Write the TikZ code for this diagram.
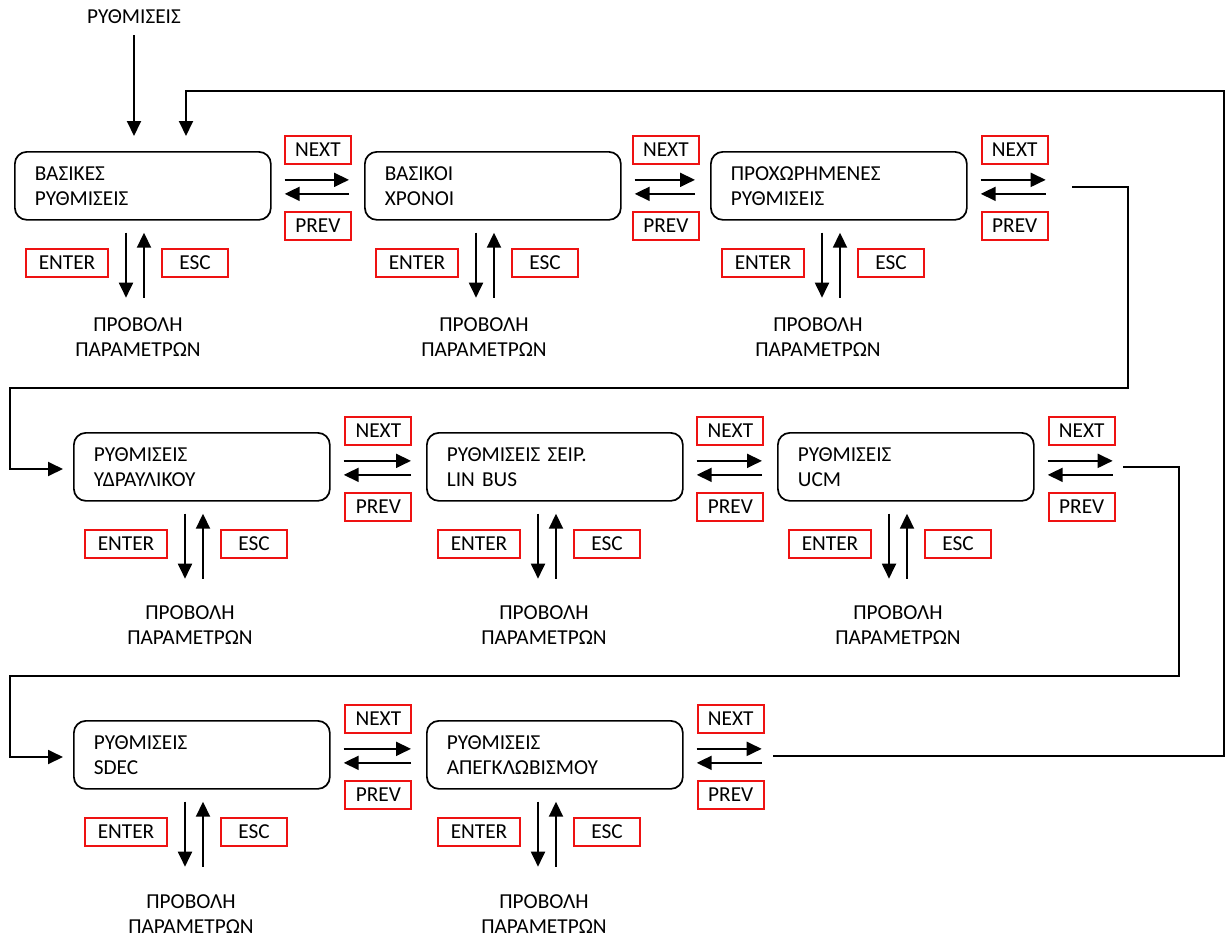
\documentclass[tikz,border=0pt]{standalone}
\usepackage{fontspec}
\setmainfont{Carlito}
\usetikzlibrary{arrows.meta,calc}
\definecolor{kred}{RGB}{238,18,18}
\newcommand{\fsz}{\fontsize{21.3}{25}\selectfont}
\begin{document}
\begin{tikzpicture}[x=1pt,y=-1pt,
  menubox/.style={draw, line width=1.7pt, rounded corners=12pt, minimum width=256pt,
    minimum height=68pt, text width=216pt, align=left, inner xsep=20pt, inner ysep=0pt,
    anchor=north west, font=\fsz},
  keybox/.style={draw=kred, line width=1.8pt, minimum height=28pt, inner sep=0pt, font=\fsz},
  keywide/.style={keybox, minimum width=82pt},
  keynarrow/.style={keybox, minimum width=66pt},
  viewtext/.style={align=center, font=\fsz, inner sep=0pt},
  arr/.style={line width=1.9pt, -{Triangle[length=15pt,width=14pt]}}]
\useasboundingbox (0,0) rectangle (1226,940);

% ---------- menu boxes ----------
\node[menubox] (b1) at (14,151) {ΒΑΣΙΚΕΣ\\ΡΥΘΜΙΣΕΙΣ};
\node[menubox] (b2) at (364,151) {ΒΑΣΙΚΟΙ\\ΧΡΟΝΟΙ};
\node[menubox] (b3) at (710,151) {ΠΡΟΧΩΡΗΜΕΝΕΣ\\ΡΥΘΜΙΣΕΙΣ};
\node[menubox] (b4) at (73,432) {ΡΥΘΜΙΣΕΙΣ\\ΥΔΡΑΥΛΙΚΟΥ};
\node[menubox] (b5) at (426,432) {ΡΥΘΜΙΣΕΙΣ ΣΕΙΡ.\\LIN BUS};
\node[menubox] (b6) at (777,432) {ΡΥΘΜΙΣΕΙΣ\\UCM};
\node[menubox] (b7) at (73,720) {ΡΥΘΜΙΣΕΙΣ\\SDEC};
\node[menubox] (b8) at (426,720) {ΡΥΘΜΙΣΕΙΣ\\ΑΠΕΓΚΛΩΒΙΣΜΟΥ};

% ---------- top entry ----------
\node[font=\fsz, inner sep=0pt] (top) at (134,17) {ΡΥΘΜΙΣΕΙΣ};
\coordinate (t1) at (134,136);
\draw[arr] (134,35) -- (t1);

% ---------- NEXT / PREV between boxes ----------
\foreach \a/\b in {b1/b2,b2/b3,b4/b5,b5/b6,b7/b8}{
  \draw[arr] ([xshift=13pt,yshift=6pt]\a.east) -- ([xshift=-15pt,yshift=6pt]\b.west);
  \draw[arr] ([xshift=-15pt,yshift=-8pt]\b.west) -- ([xshift=13pt,yshift=-8pt]\a.east);
  \node[keynarrow] (\a next) at ($(\a.east)!0.5!(\b.west)+(0,-36)$) {NEXT};
  \node[keynarrow] (\a prev) at ($(\a.east)!0.5!(\b.west)+(0,40)$) {PREV};
}
\foreach \a in {b3,b6,b8}{
  \coordinate (\a end) at ($(\a.east)+(78,0)$);
  \draw[arr] ([xshift=13pt,yshift=6pt]\a.east) -- ([yshift=6pt]\a end);
  \draw[arr] ([yshift=-8pt]\a end) -- ([xshift=13pt,yshift=-8pt]\a.east);
  \node[keynarrow] (\a next) at ($(\a.east)+(47,-36)$) {NEXT};
  \node[keynarrow] (\a prev) at ($(\a.east)+(47,40)$) {PREV};
}

% ---------- ENTER / ESC below boxes ----------
\foreach \a/\tx/\ty in {b1/124/104, b2/120/104, b3/108/104,
                       b4/117/111, b5/118/111, b6/121/111,
                       b7/118/112, b8/118/112}{
  \draw[arr] ($(\a.south west)+(112,12)$) -- ($(\a.south west)+(112,77)$);
  \draw[arr] ($(\a.south west)+(130,77)$) -- ($(\a.south west)+(130,12)$);
  \node[keywide] (\a enter) at ($(\a.south west)+(53,42)$) {ENTER};
  \node[keynarrow] (\a esc) at ($(\a.south west)+(181,42)$) {ESC};
  \node[viewtext] (\a view) at ($(\a.south west)+(\tx,\ty+12)$) {ΠΡΟΒΟΛΗ\\ΠΑΡΑΜΕΤΡΩΝ};
}

% ---------- return loops ----------
\coordinate (l3s) at (773,756);
\coordinate (l3c) at (1224,91);
\coordinate (t2) at (186,136);
\draw[arr] (l3s) -| (l3c) -| (t2);

\coordinate (l1s) at (1072,187);
\coordinate (l1c) at (1128,388);
\coordinate (l1d) at (10,469);
\coordinate (t4) at (63,469);
\draw[arr] (l1s) -| (l1c) -| (l1d) -- (t4);

\coordinate (l2s) at (1123,467);
\coordinate (l2c) at (1179,676);
\coordinate (l2d) at (10,757);
\coordinate (t7) at (63,757);
\draw[arr] (l2s) -| (l2c) -| (l2d) -- (t7);
\end{tikzpicture}
\end{document}
